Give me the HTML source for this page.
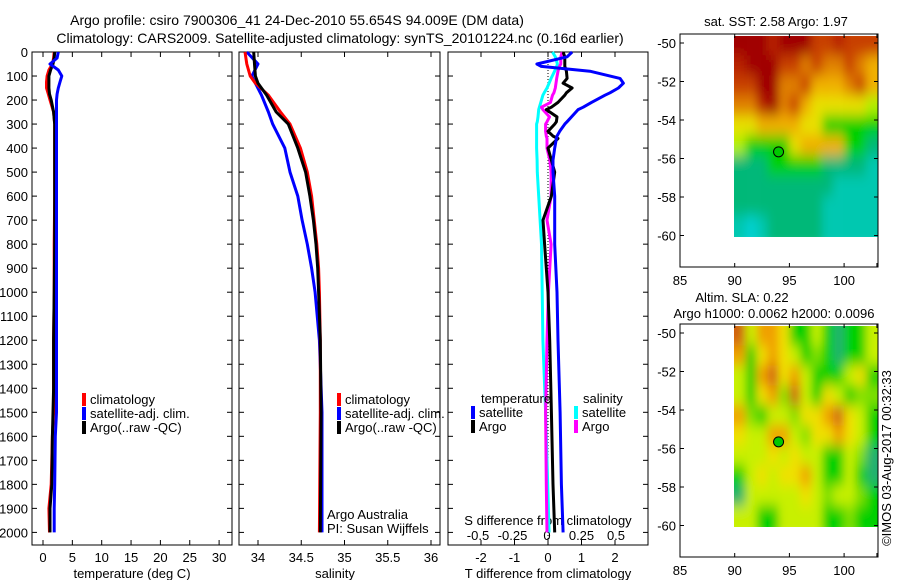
<!DOCTYPE html>
<html><head><meta charset="utf-8"><title>Argo profile</title>
<style>
html,body{margin:0;padding:0;background:#fff;}
svg{display:block;font-family:"Liberation Sans",sans-serif;}
text{font-size:13px;fill:#000;}
</style></head>
<body>
<svg id="c" width="900" height="580" viewBox="0 0 900 580" xmlns="http://www.w3.org/2000/svg">
<defs>
<filter id="blur" filterUnits="userSpaceOnUse" x="600" y="0" width="300" height="580"><feGaussianBlur stdDeviation="4.5 7"/></filter>
<clipPath id="clipTop"><rect x="734" y="36" width="144" height="201"/></clipPath>
<clipPath id="clipBot"><rect x="734" y="326" width="144" height="201"/></clipPath>
</defs>
<text x="297" y="25" text-anchor="middle" style="font-size:14px">Argo profile: csiro 7900306_41 24-Dec-2010 55.654S 94.009E (DM data)</text>
<text x="340" y="43" text-anchor="middle" style="font-size:14px">Climatology: CARS2009. Satellite-adjusted climatology: synTS_20101224.nc (0.16d earlier)</text>
<text x="776" y="26" text-anchor="middle">sat. SST: 2.58 Argo: 1.97</text>
<text x="742" y="302" text-anchor="middle">Altim. SLA: 0.22</text>
<text x="774" y="318" text-anchor="middle">Argo h1000: 0.0062 h2000: 0.0096</text>
<text x="0" y="0" transform="translate(891,458) rotate(-90)" text-anchor="middle">©IMOS 03-Aug-2017 00:32:33</text>
<g id="g"></g>
</svg>
<script>
// ---- profile data ----
const tDepth=[0,25,50,75,100,125,150,175,200,225,250,300,400,600,800,1000,1200,1400,1500,1600,1800,1900,2000];
const tClim=[1.9,1.8,1.6,1.0,0.7,0.6,0.6,0.9,1.2,1.5,1.8,2.0,2.0,2.0,1.9,1.9,1.8,1.8,1.8,1.6,1.4,1.0,1.1];
const tSat=[2.6,2.4,1.2,2.6,3.2,2.9,2.6,2.4,2.3,2.3,2.3,2.3,2.3,2.3,2.3,2.3,2.3,2.3,2.3,2.1,2.0,1.9,1.9];
const tArgo=[2.0,1.9,1.7,1.3,1.0,1.0,1.0,1.1,1.4,1.6,1.8,2.0,2.0,2.0,2.0,1.9,1.8,1.8,1.7,1.6,1.5,1.2,1.2];
const sDepth=[0,50,100,130,180,250,300,400,500,600,700,800,900,1000,1200,1500,2000];
const sClim=[33.85,33.87,33.91,33.97,34.12,34.26,34.37,34.49,34.57,34.62,34.65,34.68,34.70,34.71,34.72,34.72,34.71];
const sArgo=[33.95,33.96,33.97,34.0,34.1,34.21,34.35,34.46,34.55,34.6,34.64,34.67,34.69,34.70,34.72,34.73,34.72];
const sSat=[33.87,34.0,33.93,33.97,34.04,34.12,34.17,34.31,34.37,34.46,34.51,34.57,34.62,34.66,34.71,34.74,34.74];
const dDepth=[0,20,50,60,80,110,130,150,170,180,210,230,240,270,290,300,330,350,360,400,450,500,600,700,800,1000,1200,1500,1800,2000];
const dTSat=[0.72,0.57,-0.33,-0.2,1.25,2.15,2.25,2.1,1.85,1.7,1.3,1.05,0.9,0.7,0.57,0.5,0.35,0.27,0.25,0.2,0.15,0.15,0.2,0.2,0.2,0.27,0.3,0.36,0.4,0.45];
const dTArgo=[0.45,0.5,0.5,0.5,0.55,0.57,0.45,0.72,0.55,0.5,0.3,0.1,-0.05,0.27,0.25,0.2,0.0,0.15,0.3,0.0,0.1,0.2,0.1,-0.15,-0.1,0.0,0.05,0.1,0.15,0.2];
const dSArgo=[0.11,0.1,0.1,0.09,0.08,0.07,0.065,0.06,0.05,0.04,0.025,-0.04,-0.03,0.018,0.0,-0.01,-0.01,-0.005,0.0,0.0,0.02,0.03,0.03,0.0,0.03,0.01,0.0,-0.01,-0.005,0.0];
const dSSat=[0.04,0.06,0.075,0.07,0.055,0.03,0.015,0.0,-0.02,-0.03,-0.045,-0.055,-0.06,-0.065,-0.07,-0.075,-0.075,-0.075,-0.075,-0.075,-0.072,-0.07,-0.06,-0.05,-0.04,-0.035,-0.03,-0.01,0.005,0.015];
const depthTicks=[0,100,200,300,400,500,600,700,800,900,1000,1100,1200,1300,1400,1500,1600,1700,1800,1900,2000];
const tempTicks=[0,5,10,15,20,25,30];
const salTicks=[34,34.5,35,35.5,36];
const tdTicks=[-2,-1,0,1,2];
const sdTicks=[-0.5,-0.25,0,0.25,0.5];
const sdTickLabels=["-0.5","-0.25","0","0.25","0.5"];
// ---- map data (rows lat -50..-60, cols lon 90..103) ----
const sstGrid=[
[10,10,10,9,10,10,10,8,8,9,8,8,8],
[9,10,10,10,8,8,7,8,7,7,8,7,6],
[8,8,10,10,7,7,8,6,6,6,7,8,6],
[7,7,9,10,7,8,6,5,5,5,5,5,4],
[5,5,6,6,6,6,5,5,3,3,3,3,3],
[4,3,3,3,3,5,6,6,6,6,3,3,2],
[2,2,2,3,3,3,3,3,2,2,2,2,1],
[2,2,2,2,2,2,2,2,2,1,1,1,1],
[2,2,2,2,2,2,2,2,1,1,1,1,1],
[1,0,1,2,2,2,2,2,1,1,1,1,1]];
const slaGrid=[
[6,3,5,5,4,1,1,3,1,0,1,1,3],
[5,1,4,5,4,3,1,2,1,0,1,1,3],
[3,1,5,6,4,5,3,1,1,1,3,4,1],
[3,1,4,5,2,6,3,1,4,3,1,2,2],
[5,2,1,3,3,2,4,4,5,6,4,3,1],
[4,3,3,5,5,3,2,4,4,5,4,3,1],
[3,3,3,4,3,4,3,3,1,1,3,2,0],
[1,3,4,3,4,4,5,3,1,1,3,1,0],
[0,3,3,3,3,3,4,3,2,3,3,2,1],
[3,3,1,1,3,3,3,3,1,1,2,1,1]];
const sstColors=["#00d0d0","#00c8b0","#00b878","#00d000","#b0f000","#e8e000","#f0b000","#e08000","#c84000","#b82000","#a00000"];
const slaColors=["#20b070","#00d000","#80e000","#c8f000","#f0e000","#f0a000","#d06010"];
const mapLonTicks=[85,90,95,100];
const mapLatTicks=[-50,-52,-54,-56,-58,-60];
const floatLon=94.009, floatLat=-55.654;

const NS="http://www.w3.org/2000/svg";
const G=document.getElementById('g');
function mk(tag,attrs,parent){const e=document.createElementNS(NS,tag);for(const k in attrs)e.setAttribute(k,attrs[k]);(parent||G).appendChild(e);return e;}
function txt(x,y,s,anchor,parent){const t=mk('text',{x:x,y:y,'text-anchor':anchor||'start'},parent);t.textContent=s;return t;}

const Y0=52, Y1=545;
const yD=d=>Y0+d*0.2402;
function panelFrame(x0,x1,name){
  const r=mk('rect',{x:x0,y:Y0,width:x1-x0,height:Y1-Y0,fill:'none',stroke:'#000','stroke-width':1});
  
  
  depthTicks.forEach(d=>{
    mk('line',{x1:x0,x2:x0+5,y1:yD(d),y2:yD(d),stroke:'#000'});
    mk('line',{x1:x1,x2:x1-5,y1:yD(d),y2:yD(d),stroke:'#000'});
  });
}
function series(xs,ds,fx,color,w,name){
  const pts=xs.map((v,i)=>fx(v).toFixed(1)+','+yD(ds[i]).toFixed(1)).join(' ');
  const p=mk('polyline',{points:pts,fill:'none',stroke:color,'stroke-width':w,'stroke-linejoin':'round'});
  
  
}
function legendEntry(x,y,color,label,name){
  const g=mk('g',{});
  
  
  mk('rect',{x:x,y:y-11,width:4,height:13,fill:color},g);
  txt(x+8,y,label,'start',g);
}

// Panel 1: temperature
const xT=v=>43+v*5.87;
panelFrame(32,232,'temperature-panel');
depthTicks.forEach(d=>{const t=txt(28,yD(d)+5,String(d),'end');});
tempTicks.forEach(v=>{mk('line',{x1:xT(v),x2:xT(v),y1:Y0,y2:Y0+5,stroke:'#000'});mk('line',{x1:xT(v),x2:xT(v),y1:Y1,y2:Y1-5,stroke:'#000'});const t=txt(xT(v),562,String(v),'middle');});
const tl=txt(132,578,'temperature (deg C)','middle');
series(tClim,tDepth,xT,'#f00',3,'temperature-climatology-line');
series(tArgo,tDepth,xT,'#000',3,'temperature-argo-line');
series(tSat,tDepth,xT,'#00f',3,'temperature-satellite-line');
legendEntry(82,404,'#f00','climatology','temp-legend-climatology');
legendEntry(82,418,'#00f','satellite-adj. clim.','temp-legend-satellite');
legendEntry(82,432,'#000','Argo(..raw -QC)','temp-legend-argo');

// Panel 2: salinity
const xS=v=>258+(v-34)*86.5;
panelFrame(239,440,'salinity-panel');
salTicks.forEach(v=>{mk('line',{x1:xS(v),x2:xS(v),y1:Y0,y2:Y0+5,stroke:'#000'});mk('line',{x1:xS(v),x2:xS(v),y1:Y1,y2:Y1-5,stroke:'#000'});const t=txt(xS(v),562,String(v),'middle');});
const sl=txt(335,578,'salinity','middle');
series(sSat,sDepth,xS,'#00f',3,'salinity-satellite-line');
series(sClim,sDepth,xS,'#f00',3,'salinity-climatology-line');
series(sArgo,sDepth,xS,'#000',3,'salinity-argo-line');
legendEntry(337,404,'#f00','climatology','sal-legend-climatology');
legendEntry(337,418,'#00f','satellite-adj. clim.','sal-legend-satellite');
legendEntry(337,432,'#000','Argo(..raw -QC)','sal-legend-argo');
const a1=txt(327,519,'Argo Australia');
const a2=txt(327,533,'PI: Susan Wijffels');

// Panel 3: differences
const xDT=v=>548+v*33.5;
const xDS=v=>547+v*138;
panelFrame(448,648,'difference-panel');
const zl=mk('line',{x1:548,x2:548,y1:Y0,y2:Y1,stroke:'#000','stroke-dasharray':'1,2'});

tdTicks.forEach(v=>{mk('line',{x1:xDT(v),x2:xDT(v),y1:Y0,y2:Y0+5,stroke:'#000'});mk('line',{x1:xDT(v),x2:xDT(v),y1:Y1,y2:Y1-5,stroke:'#000'});const t=txt(xDT(v),562,String(v),'middle');});
sdTicks.forEach((v,i)=>{const t=txt(xDS(v),540,sdTickLabels[i],'middle');});
const s3=txt(548,525,'S difference from climatology','middle');
const t3=txt(548,578,'T difference from climatology','middle');
series(dSSat,dDepth,xDS,'#0ff',3,'s-diff-satellite-line');
series(dSArgo,dDepth,xDS,'#f0f',3,'s-diff-argo-line');
series(dTArgo,dDepth,xDT,'#000',3,'t-diff-argo-line');
series(dTSat,dDepth,xDT,'#00f',3,'t-diff-satellite-line');
const lt=txt(481,403,'temperature');
const ls=txt(583,403,'salinity');
legendEntry(471,417,'#00f','satellite','diff-legend-t-satellite');
legendEntry(471,431,'#000','Argo','diff-legend-t-argo');
legendEntry(574,417,'#0ff','satellite','diff-legend-s-satellite');
legendEntry(574,431,'#f0f','Argo','diff-legend-s-argo');

// Maps
function drawMap(top,grid,colors,name,clipId){
  const FX0=680,FX1=878,FT=top,FB=top+233;
  const xL=lon=>680+(lon-85)*10.94;
  const yL=lat=>top+9+(-50-lat)*19.25;
  const g=mk('g',{'clip-path':'url(#'+clipId+')'});
  
  
  const inner=mk('g',{filter:'url(#blur)'},g);
  const yTop=yL(-49.6), yBot=yL(-60), rh=(yBot-yTop)/grid.length;
  grid.forEach((row,r)=>row.forEach((v,c)=>{
    const x0=c===0?xL(90)-12:xL(90+c);
    const w=(c===0?12:0)+(c===row.length-1?24:11.2);
    const y0=r===0?yTop-14:yTop+r*rh;
    const h=(r===0?14:0)+(r===grid.length-1?rh+14:rh+0.4);
    const cell=mk('rect',{x:x0.toFixed(1),y:y0.toFixed(1),width:w.toFixed(1),height:h.toFixed(1),fill:colors[v]},inner);
    
    
  }));
  const fr=mk('rect',{x:FX0,y:FT,width:FX1-FX0,height:FB-FT,fill:'none',stroke:'#000'});
  
  mapLonTicks.concat([103]).forEach(l=>{mk('line',{x1:xL(l),x2:xL(l),y1:FB,y2:FB-4,stroke:'#000'});mk('line',{x1:xL(l),x2:xL(l),y1:FT,y2:FT+4,stroke:'#000'});});
  mapLonTicks.forEach(l=>{const t=txt(xL(l),FB+18,String(l),'middle');});
  mapLatTicks.forEach(l=>{mk('line',{x1:FX0,x2:FX0+4,y1:yL(l),y2:yL(l),stroke:'#000'});mk('line',{x1:FX1,x2:FX1-4,y1:yL(l),y2:yL(l),stroke:'#000'});const t=txt(FX0-4,yL(l)+5,String(l),'end');});
  const m=mk('circle',{cx:xL(floatLon),cy:yL(floatLat),r:5,fill:'#00c800',stroke:'#000','stroke-width':1});
  
  
}
drawMap(34,sstGrid,sstColors,'sst-map','clipTop');
drawMap(324,slaGrid,slaColors,'sla-map','clipBot');
</script>
</body></html>
